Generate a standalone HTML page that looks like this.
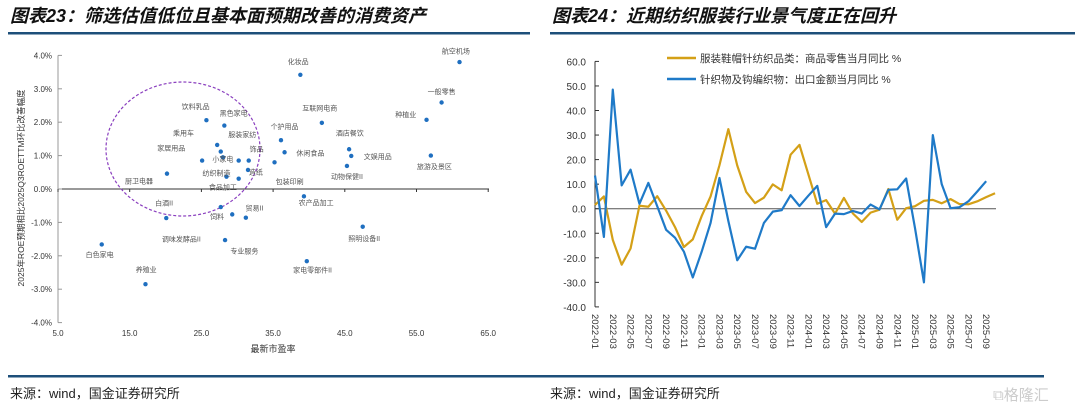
<!DOCTYPE html>
<html><head><meta charset="utf-8">
<style>
body{margin:0;width:1080px;height:412px;overflow:hidden;background:#fff;font-family:"Liberation Sans","Noto Sans CJK SC",sans-serif;}
svg{position:absolute;left:0;top:0}
</style></head><body>
<svg id="s" width="1080" height="412" font-family="Liberation Sans, Noto Sans CJK SC, sans-serif">
<text x="10" y="22" font-size="18" font-weight="bold" font-style="italic" fill="#111">图表23：筛选估值低位且基本面预期改善的消费资产</text>
<text x="552" y="22" font-size="18" font-weight="bold" font-style="italic" fill="#111">图表24：近期纺织服装行业景气度正在回升</text>
<rect x="8" y="32" width="522" height="2.5" fill="#1d4f7a"/>
<rect x="550" y="32" width="525" height="2.5" fill="#1d4f7a"/>
<rect x="8" y="375" width="532" height="2.5" fill="#1d4f7a"/>
<rect x="540" y="375" width="504" height="2.5" fill="#1d4f7a"/>
<text x="10" y="398" font-size="13" fill="#222">来源：wind，国金证券研究所</text>
<text x="550" y="398" font-size="13" fill="#222">来源：wind，国金证券研究所</text>
<text x="993" y="400" font-size="15" fill="#ccc">⧉格隆汇</text>
<g id="L"></g><g id="R"></g>
</svg>
<script>
const names=["化妆品","航空机场","一般零售","种植业","旅游及景区","互联网电商","酒店餐饮","文娱用品","动物保健II","个护用品","休闲食品","包装印刷","饮料乳品","黑色家电","乘用车","家居用品","小家电","服装家纺","饰品","纺织制造","造纸","食品加工","休闲食品2","厨卫电器","农产品加工","白酒II","饲料","调味发酵品II","贸易II","专业服务","照明设备II","家电零部件II","白色家电","养殖业"];
const pe=[38.8,61.0,58.5,56.4,57.0,41.8,45.6,45.9,45.3,36.1,36.6,35.2,25.7,28.2,27.2,27.7,28.0,30.2,31.6,25.1,31.5,28.5,30.2,20.2,39.3,20.1,27.7,28.3,31.2,29.3,47.5,39.7,11.1,17.2];
const roe=[3.42,3.8,2.59,2.07,1.0,1.98,1.19,0.99,0.69,1.46,1.1,0.8,2.06,1.9,1.32,1.12,0.95,0.85,0.85,0.85,0.57,0.37,0.31,0.46,-0.22,-0.87,-0.54,-1.53,-0.86,-0.76,-1.13,-2.16,-1.66,-2.85];
const labels=[["化妆品",38.5,3.75],["航空机场",60.5,4.05],["一般零售",58.5,2.85],["种植业",53.5,2.15],["旅游及景区",57.5,0.6],["互联网电商",41.5,2.35],["酒店餐饮",45.7,1.6],["文娱用品",49.6,0.9],["动物保健II",45.3,0.3],["个护用品",36.6,1.8],["休闲食品",40.2,1.0],["包装印刷",37.3,0.15],["饮料乳品",24.2,2.4],["黑色家电",29.5,2.2],["乘用车",22.5,1.6],["家居用品",20.8,1.15],["小家电",28.0,0.82],["服装家纺",30.7,1.55],["饰品",32.7,1.12],["纺织制造",27.1,0.4],["造纸",32.6,0.44],["食品加工",28.0,-0.02],["厨卫电器",16.3,0.17],["农产品加工",41.0,-0.48],["白酒II",19.8,-0.5],["饲料",27.2,-0.9],["调味发酵品II",22.2,-1.57],["贸易II",32.4,-0.64],["专业服务",31.0,-1.93],["照明设备II",47.7,-1.55],["家电零部件II",40.5,-2.5],["白色家电",10.8,-2.04],["养殖业",17.3,-2.48]];
const xTicks=[5,15,25,35,45,55,65];
const yTicks=[4,3,2,1,0,-1,-2,-3,-4];
const NS="http://www.w3.org/2000/svg";
function mk(p,t,a){const e=document.createElementNS(NS,t);for(const k in a)e.setAttribute(k,a[k]);p.appendChild(e);return e;}
const L=document.getElementById('L');
const sx=v=>58+(v-5)*7.17, sy=v=>189-v*33.4;
let e;
e=mk(L,'line',{x1:58,y1:sy(4),x2:58,y2:sy(-4),stroke:'#999'});

e=mk(L,'line',{x1:58,y1:sy(0),x2:489,y2:sy(0),stroke:'#333'});

yTicks.forEach(v=>{mk(L,'line',{x1:58,y1:sy(v),x2:62,y2:sy(v),stroke:'#999'});
e=mk(L,'text',{x:52,y:sy(v)+3,'font-size':8,'text-anchor':'end',fill:'#333'});e.textContent=v.toFixed(1)+'%';
});
xTicks.forEach(v=>{mk(L,'line',{x1:sx(v),y1:sy(0),x2:sx(v),y2:sy(0)+3,stroke:'#333'});
e=mk(L,'text',{x:sx(v),y:336,'font-size':8,'text-anchor':'middle',fill:'#333'});e.textContent=v.toFixed(1);
});
e=mk(L,'text',{x:273,y:352,'font-size':9,'text-anchor':'middle',fill:'#333'});e.textContent='最新市盈率';

e=mk(L,'text',{x:0,y:0,'font-size':8.5,'text-anchor':'middle',fill:'#333',transform:'translate(24,188) rotate(-90)'});e.textContent='2025年ROE预期相比2025Q3ROETTM环比改善幅度';

e=mk(L,'ellipse',{cx:183,cy:149,rx:77,ry:67,fill:'none',stroke:'#8a3fbf','stroke-width':1.2,'stroke-dasharray':'3,2'});

pe.forEach((v,i)=>{e=mk(L,'circle',{cx:sx(v),cy:sy(roe[i]),r:2.2,fill:'#1f6fc0'});
});
labels.forEach(l=>{e=mk(L,'text',{x:sx(l[1]),y:sy(l[2]),'font-size':7,'text-anchor':'middle',fill:'#555'});e.textContent=l[0];
});

// right chart
const gold=[1.5,5,-12.7,-22.8,-16.2,1.2,0.8,5.1,-0.8,-7.5,-15.6,-12.5,-3,5,17.7,32.4,17.6,6.9,2.3,4.5,9.9,7.5,22,26,14,2,3.5,-2,4.4,-1.9,-5.4,-1.6,-0.4,8,-4.5,0.2,1,3.2,3.6,2.2,3.9,1.9,1.8,3,4.7,6.3];
const blue=[13.5,-11.5,48.5,9.5,15.9,2,10.5,1,-8.6,-11.8,-17.5,-28,-17.5,-5.8,12.5,-5,-21,-15.5,-16.3,-5.8,-1.2,-0.6,5.5,1.1,5.3,9.3,-7.5,-2,-2.2,-0.9,-2,1.7,-0.3,7.7,7.9,12.3,-8,-30,30,10,0.2,0.6,3,7,11.2];
const rTicks=[60,50,40,30,20,10,0,-10,-20,-30,-40];
const months=["2022-01","2022-03","2022-05","2022-07","2022-09","2022-11","2023-01","2023-03","2023-05","2023-07","2023-09","2023-11","2024-01","2024-03","2024-05","2024-07","2024-09","2024-11","2025-01","2025-03","2025-05","2025-07","2025-09"];
const R=document.getElementById('R');
const rx=i=>595+i*8.89, ry=v=>208.7-v*2.455;
e=mk(R,'line',{x1:595,y1:ry(60),x2:595,y2:ry(-40),stroke:'#333'});

e=mk(R,'line',{x1:595,y1:ry(0),x2:996,y2:ry(0),stroke:'#555'});

rTicks.forEach(v=>{mk(R,'line',{x1:595,y1:ry(v),x2:599,y2:ry(v),stroke:'#333'});
e=mk(R,'text',{x:586,y:ry(v)+4,'font-size':10,'text-anchor':'end',fill:'#333'});e.textContent=v.toFixed(1);
});
months.forEach((m,k)=>{const x=rx(k*2);
e=mk(R,'text',{x:0,y:0,'font-size':9.5,fill:'#333',transform:`translate(${x-3},314) rotate(90)`});e.textContent=m;
});
function line(arr,c,n){e=mk(R,'polyline',{points:arr.map((v,i)=>rx(i)+','+ry(v)).join(' '),fill:'none',stroke:c,'stroke-width':2.2,'stroke-linejoin':'round'});
}
line(gold,'#d4a017','retail-series-line');
line(blue,'#1f7ac8','export-series-line');
[['#d4a017','服装鞋帽针纺织品类：商品零售当月同比 %',58],['#1f7ac8','针织物及钩编织物：出口金额当月同比 %',79]].forEach((l,k)=>{
e=mk(R,'line',{x1:667,y1:l[2],x2:696,y2:l[2],stroke:l[0],'stroke-width':2.5});

e=mk(R,'text',{x:700,y:l[2]+4,'font-size':10.5,fill:'#333'});e.textContent=l[1];
});
</script>
</body></html>
